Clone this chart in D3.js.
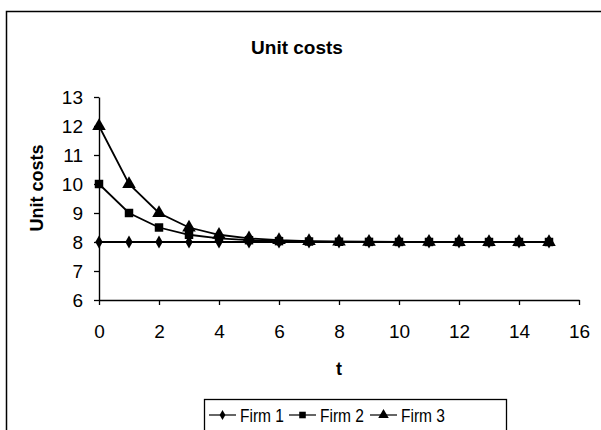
<!DOCTYPE html>
<html><head><meta charset="utf-8">
<script src="https://cdn.jsdelivr.net/npm/d3@7"></script>
<style>body{margin:0;background:#fff}svg{display:block;font-family:"Liberation Sans",Arial,sans-serif}</style>
</head><body><svg id="c" width="601" height="430"></svg>
<script>
const t = [0,1,2,3,4,5,6,7,8,9,10,11,12,13,14,15];
const firm1 = [8,8,8,8,8,8,8,8,8,8,8,8,8,8,8,8];
const firm2 = [10,9,8.5,8.25,8.125,8.0625,8.03,8.016,8.008,8.004,8.002,8.001,8,8,8,8];
const firm3 = [12,10,9,8.5,8.25,8.125,8.0625,8.03,8.016,8.008,8.004,8.002,8.001,8,8,8];
const seriesNames = ["Firm 1","Firm 2","Firm 3"];
const xTicks = [0,2,4,6,8,10,12,14,16];
const yTicks = [6,7,8,9,10,11,12,13];

const svg = d3.select("#c");
const x = d3.scaleLinear().domain([0,16]).range([99,579]);
const y = d3.scaleLinear().domain([6,13]).range([300,97]);

// outer frame
svg.append("path").attr("d","M6.5,440 V11.5 H620").attr("fill","none").attr("stroke","#000").attr("stroke-width",1.5);

svg.append("text").attr("x",297).attr("y",54).attr("text-anchor","middle")
  .attr("font-size",19).attr("font-weight","bold").text("Unit costs");

const xa = svg.append("g").attr("transform","translate(0,300)")
  .call(d3.axisBottom(x).tickValues(xTicks).tickFormat(d3.format("d")).tickSize(5).tickSizeOuter(0).tickPadding(20));
const ya = svg.append("g").attr("transform","translate(99,0)")
  .call(d3.axisLeft(y).tickValues(yTicks).tickFormat(d3.format("d")).tickSize(5).tickSizeOuter(0).tickPadding(11));
[xa,ya].forEach(a=>{
  a.select(".domain").attr("stroke","#000").attr("stroke-width",1.4);
  a.selectAll(".tick line").attr("stroke","#000").attr("stroke-width",1.3);
  a.selectAll("text").attr("font-size",19).attr("fill","#000").attr("font-family","Liberation Sans, Arial, sans-serif");
});
svg.append("text").attr("x",339).attr("y",375).attr("text-anchor","middle")
  .attr("font-size",18).attr("font-weight","bold").text("t");
svg.append("text").attr("transform","translate(43,188) rotate(-90)").attr("text-anchor","middle")
  .attr("font-size",18).attr("font-weight","bold").text("Unit costs");

const data = [firm1, firm2, firm3];
const symbols = [d3.symbolDiamond, d3.symbolSquare, d3.symbolTriangle];
const sizes = [48, 72, 80];
const line = d3.line().x((d,i)=>x(t[i])).y(d=>y(d));

data.forEach((s,k)=>{
  svg.append("path").datum(s).attr("d",line).attr("fill","none").attr("stroke","#000").attr("stroke-width",1.8);
});
data.forEach((s,k)=>{
  svg.append("g").selectAll("path").data(s).join("path")
    .attr("transform",(d,i)=>`translate(${x(t[i])},${y(d)})`)
    .attr("d",d3.symbol().type(symbols[k]).size(sizes[k])).attr("fill","#000");
});

// legend
const lg = svg.append("g");
lg.append("rect").attr("x",204.5).attr("y",399.5).attr("width",302).attr("height",40)
  .attr("fill","#fff").attr("stroke","#000").attr("stroke-width",1.3);
const lx = [209, 289, 370];
seriesNames.forEach((n,k)=>{
  lg.append("line").attr("x1",lx[k]).attr("x2",lx[k]+27).attr("y1",415).attr("y2",415).attr("stroke","#000").attr("stroke-width",1.2);
  lg.append("path").attr("transform",`translate(${lx[k]+13.5},415)`)
    .attr("d",d3.symbol().type(symbols[k]).size(sizes[k]*0.6)).attr("fill","#000");
  lg.append("text").attr("x",lx[k]+31).attr("y",421.5).attr("font-size",17.5)
    .attr("textLength",44).attr("lengthAdjust","spacingAndGlyphs").text(n);
});
</script></body></html>
